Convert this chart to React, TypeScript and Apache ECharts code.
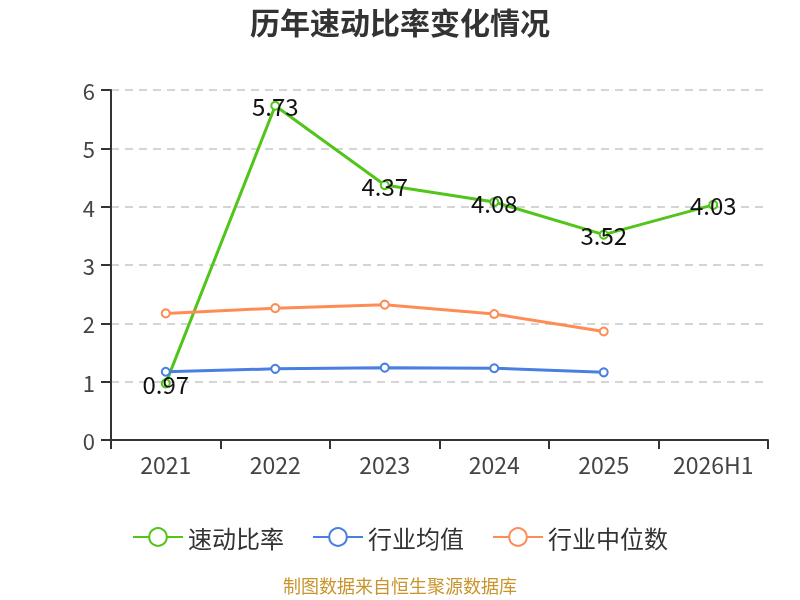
import React, { useEffect, useRef } from "react";
import * as echarts from "echarts";

const categories = ["2021", "2022", "2023", "2024", "2025", "2026H1"];
const quickRatio = [0.97, 5.73, 4.37, 4.08, 3.52, 4.03];
const industryAvg = [1.17, 1.22, 1.24, 1.23, 1.16, null];
const industryMedian = [2.17, 2.26, 2.32, 2.16, 1.86, null];
const seriesNames = ["速动比率", "行业均值", "行业中位数"];
const colors = ["#52c41a", "#4a7fe2", "#ff8c55"];
const FONT = "'Noto Sans CJK SC', 'Noto Sans', sans-serif";

export default function App() {
  const ref = useRef<HTMLDivElement>(null);
  useEffect(() => {
    if (!ref.current) return;
    const chart = echarts.init(ref.current, null, { renderer: "svg" });
    chart.setOption({
      animation: false,
      textStyle: { fontFamily: FONT },
      title: {
        text: "历年速动比率变化情况",
        left: "center",
        top: 6,
        padding: 0,
        textStyle: { fontSize: 30, fontWeight: "bold", color: "#333", fontFamily: FONT },
      },
      legend: {
        bottom: 46,
        itemWidth: 50,
        itemHeight: 22,
        itemGap: 28,
        textStyle: { fontSize: 24, color: "#333", fontFamily: FONT },
        data: seriesNames,
      },
      graphic: [
        {
          type: "text",
          left: "center",
          top: 576,
          style: { text: "制图数据来自恒生聚源数据库", fill: "#c8952c", fontSize: 18, fontFamily: FONT },
        },
      ],
      grid: { left: 111, right: 32, top: 90, bottom: 160 },
      xAxis: {
        type: "category",
        data: categories,
        axisLine: { lineStyle: { color: "#333", width: 2 } },
        axisTick: { show: true, length: 9, lineStyle: { color: "#333", width: 2 } },
        axisLabel: { fontSize: 23, color: "#444", margin: 12, fontFamily: FONT },
      },
      yAxis: {
        type: "value",
        min: 0,
        max: 6,
        interval: 1,
        axisLine: { show: true, lineStyle: { color: "#333", width: 2 } },
        axisTick: { show: true, length: 10, lineStyle: { color: "#333", width: 2 } },
        axisLabel: { fontSize: 22, color: "#444", margin: 16, fontFamily: FONT },
        splitLine: { lineStyle: { type: [8, 6], color: "#c8c8c8", width: 1.5 } },
      },
      series: [
        {
          name: seriesNames[0],
          type: "line",
          data: quickRatio,
          color: colors[0],
          symbol: "emptyCircle",
          symbolSize: 8,
          lineStyle: { width: 3 },
          z: 3,
          label: {
            show: true,
            position: "inside",
            fontSize: 24,
            color: "#111",
            fontFamily: FONT,
          },
        },
        {
          name: seriesNames[1],
          type: "line",
          data: industryAvg,
          color: colors[1],
          symbol: "emptyCircle",
          symbolSize: 8,
          lineStyle: { width: 3 },
        },
        {
          name: seriesNames[2],
          type: "line",
          data: industryMedian,
          color: colors[2],
          symbol: "emptyCircle",
          symbolSize: 8,
          lineStyle: { width: 3 },
        },
      ],
    });
    return () => chart.dispose();
  }, []);
  return (
    <div
      ref={ref}
      style={{ position: "fixed", left: 0, top: 0, width: 800, height: 600 }}
    />
  );
}
